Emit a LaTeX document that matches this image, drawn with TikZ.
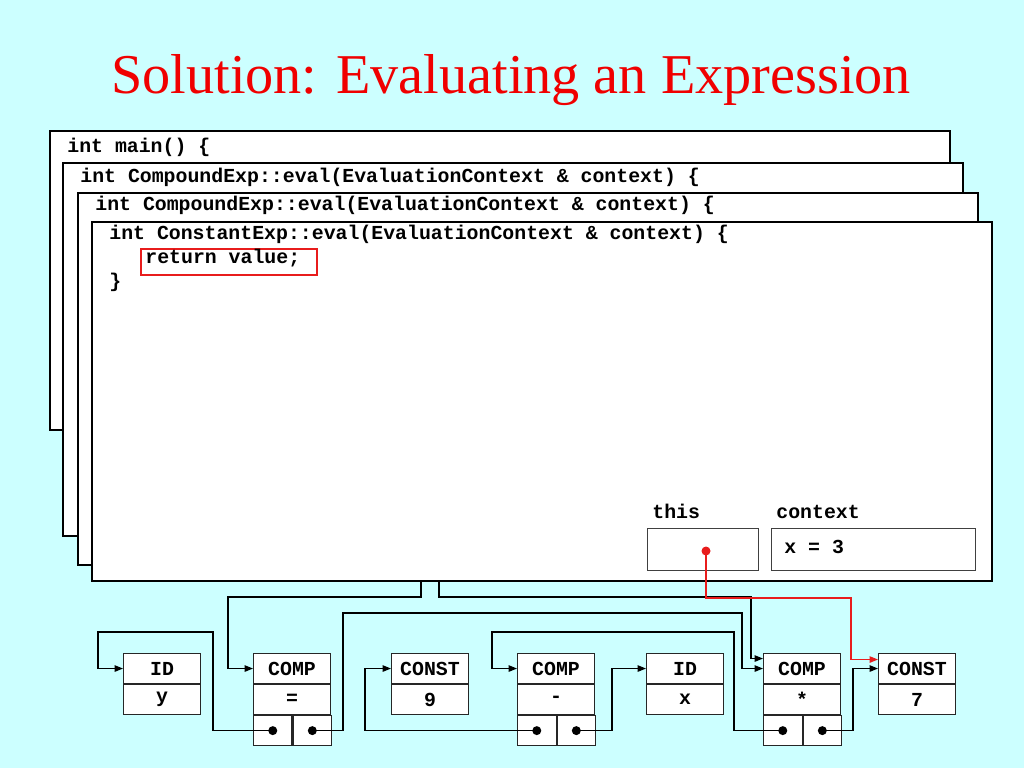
\documentclass[tikz,border=0pt]{standalone}
\usepackage{fontspec}
\setmainfont{Liberation Serif}
\newfontfamily\codefont{Liberation Mono}
\usetikzlibrary{positioning,arrows.meta}
\definecolor{slidebg}{RGB}{204,255,255}
\definecolor{titlered}{RGB}{240,0,0}
\definecolor{markred}{RGB}{232,28,28}

\begin{document}
\begin{tikzpicture}[
  x=0.02cm, y=-0.02cm,
  stackframe/.style={draw, line width=1.2pt, fill=white, anchor=north west, minimum width=18cm, inner sep=0},
  code/.style={anchor=base west, inner sep=0, font=\codefont\bfseries\fontsize{11.3}{13}\selectfont},
  slot/.style={draw=black!75, line width=0.6pt, fill=white, anchor=north west, minimum height=0.84cm, inner sep=0},
  cell/.style={draw=black!85, line width=0.6pt, fill=white, minimum width=1.54cm, minimum height=0.6cm, inner sep=0, font=\codefont\bfseries\fontsize{11.3}{13}\selectfont},
  ptr/.style={cell, minimum width=0.77cm},
  link/.style={-{Triangle[length=0.17cm,width=0.13cm]}, line width=0.8pt},
  redlink/.style={link, draw=markred, line width=0.7pt}
]
\fill[slidebg] (0,0) rectangle (1024,768);
\useasboundingbox (0,0) rectangle (1024,768);

\node[anchor=base west, inner sep=0, text=titlered, font=\fontsize{32}{38}\selectfont] (title) at (111,93) {Solution: Evaluating an Expression};

% call stack
\node[stackframe, minimum height=5.98cm] (frame1) at (49,130) {};
\node[stackframe, minimum height=7.46cm] (frame2) at (62,162) {};
\node[stackframe, minimum height=7.44cm] (frame3) at (77,192) {};
\node[stackframe, minimum height=7.18cm] (frame4) at (91,221) {};
\node[code] (main) at (67,152) {int main() \{};
\node[code] (eval1) at (80,182) {int CompoundExp::eval(EvaluationContext \& context) \{};
\node[code] (eval2) at (95,210) {int CompoundExp::eval(EvaluationContext \& context) \{};
\node[code] (eval3) at (109,239) {int ConstantExp::eval(EvaluationContext \& context) \{};
\node[draw=markred, line width=1.1pt, anchor=north west, minimum width=3.52cm, minimum height=0.52cm, inner sep=0] (retbox) at (140,248) {};
\node[code] (ret) at (145,263) {return value;};
\node[code] (close) at (109,287) {\}};

\node[code] (thislabel) at (652,518) {this};
\node[code] (ctxlabel) at (776,518) {context};
\node[slot, minimum width=2.22cm] (thisbox) at (647,528) {};
\node[slot, minimum width=4.08cm] (ctxbox) at (771,528) {};
\node[code] (xval) at (784,553) {x = 3};
\coordinate (thisdot) at (706,551);
\coordinate (tapA) at (421,580);
\coordinate (tapB) at (439,580);

% expression tree
\node[cell, anchor=north west] (idyh) at (123,653) {ID};
\node[cell, below=0pt of idyh] (idyv) {y};

\node[cell, anchor=north west] (comp1h) at (253,653) {COMP};
\node[cell, below=0pt of comp1h] (comp1v) {=};
\node[ptr, anchor=north west] (c1l) at (comp1v.south west) {};
\node[ptr, right=0pt of c1l] (c1r) {};

\node[cell, anchor=north west] (const9h) at (391,653) {CONST};
\node[cell, below=0pt of const9h] (const9v) {9};

\node[cell, anchor=north west] (comp2h) at (517,653) {COMP};
\node[cell, below=0pt of comp2h] (comp2v) {-};
\node[ptr, anchor=north west] (c2l) at (comp2v.south west) {};
\node[ptr, right=0pt of c2l] (c2r) {};

\node[cell, anchor=north west] (idxh) at (646,653) {ID};
\node[cell, below=0pt of idxh] (idxv) {x};

\node[cell, anchor=north west] (comp3h) at (763,653) {COMP};
\node[cell, below=0pt of comp3h] (comp3v) {*};
\node[ptr, anchor=north west] (c3l) at (comp3v.south west) {};
\node[ptr, right=0pt of c3l] (c3r) {};

\node[cell, anchor=north west] (const7h) at (878,653) {CONST};
\node[cell, below=0pt of const7h] (const7v) {7};

% pointers
\draw[link] (c1l.center) -| (213,632) -| ([xshift=-0.5cm]idyh.west) -- (idyh.west);
\draw[link] (tapA) |- (228,597) |- (comp1h.west);
\draw[link] (c1r.center) -| (343,613) -- (742,613) |- (comp3h.west);
\draw[link] (tapB) |- (751,597) |- ([yshift=0.2cm]comp3h.west);
\draw[link] (c3l.center) -| (734,632) -- (492,632) |- (comp2h.west);
\draw[link] (c2l.center) -| ([xshift=-0.52cm]const9h.west) -- (const9h.west);
\draw[link] (c2r.center) -| ([xshift=-0.68cm]idxh.west) -- (idxh.west);
\draw[link] (c3r.center) -| ([xshift=-0.5cm]const7h.west) -- (const7h.west);
\draw[redlink] (thisdot) |- (851,598) |- ([yshift=0.18cm]const7h.west);

\fill (c1l) circle (0.09cm) (c1r) circle (0.09cm);
\fill (c2l) circle (0.09cm) (c2r) circle (0.09cm);
\fill (c3l) circle (0.09cm) (c3r) circle (0.09cm);
\fill[markred] (thisdot) circle (0.09cm);
\end{tikzpicture}
\end{document}
